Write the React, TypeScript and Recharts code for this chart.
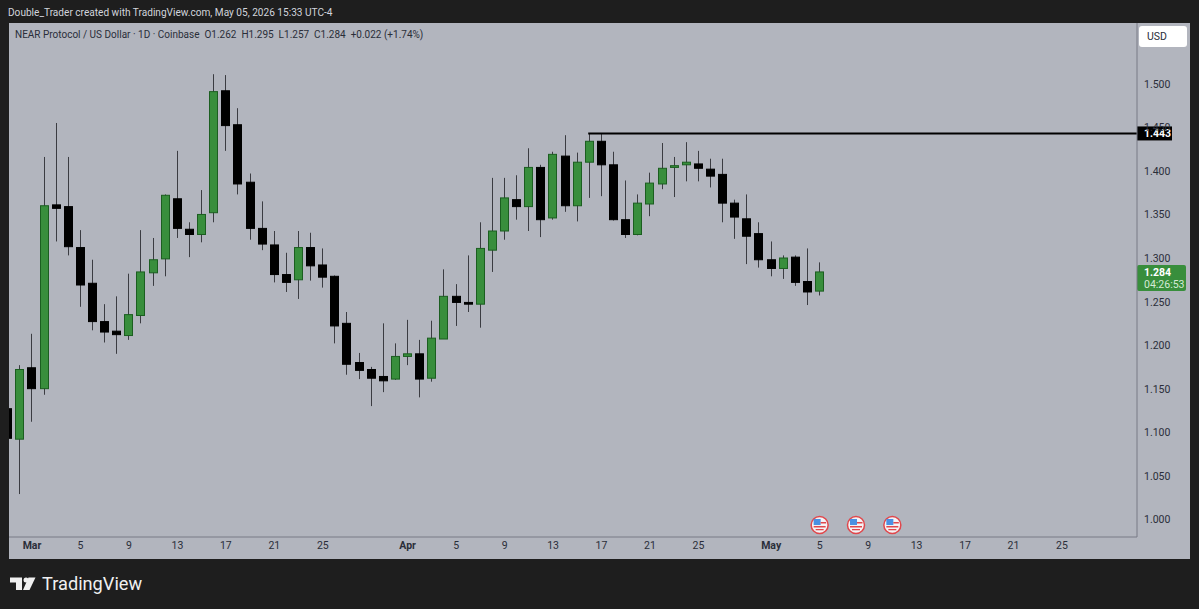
import {
  Bar,
  ComposedChart,
  ReferenceDot,
  ReferenceLine,
  XAxis,
  YAxis,
} from "recharts";

// one entry per day, first one is Feb 27 (day -2), Mar 1 is day 0, last one is May 5
const firstDay = -2;
const opens = [
  1.127, 1.092, 1.174, 1.15, 1.361, 1.359, 1.312, 1.271, 1.227, 1.216, 1.211, 1.234, 1.283, 1.299, 1.368, 1.333,
  1.327, 1.352, 1.492, 1.453, 1.387, 1.334, 1.315, 1.281, 1.275, 1.312, 1.292, 1.279, 1.225, 1.18, 1.172, 1.164,
  1.161, 1.187, 1.19, 1.162, 1.207, 1.256, 1.249, 1.247, 1.309, 1.331, 1.367, 1.359, 1.404, 1.346, 1.417, 1.36,
  1.41, 1.434, 1.407, 1.344, 1.327, 1.362, 1.385, 1.404, 1.407, 1.408, 1.402, 1.396, 1.363, 1.345, 1.328, 1.298,
  1.288, 1.301, 1.273, 1.262,
];
const highs = [
  1.13, 1.177, 1.213, 1.416, 1.455, 1.416, 1.332, 1.298, 1.247, 1.256, 1.282, 1.332, 1.323, 1.373, 1.423, 1.341,
  1.378, 1.511, 1.51, 1.472, 1.397, 1.365, 1.331, 1.306, 1.331, 1.329, 1.311, 1.28, 1.238, 1.191, 1.175, 1.225,
  1.202, 1.229, 1.206, 1.228, 1.287, 1.27, 1.303, 1.341, 1.392, 1.392, 1.395, 1.426, 1.407, 1.422, 1.441, 1.421,
  1.443, 1.443, 1.422, 1.389, 1.373, 1.398, 1.432, 1.416, 1.433, 1.423, 1.414, 1.414, 1.367, 1.373, 1.341, 1.319,
  1.303, 1.303, 1.311, 1.295,
];
const lows = [
  1.09, 1.029, 1.112, 1.143, 1.319, 1.303, 1.244, 1.217, 1.203, 1.19, 1.206, 1.225, 1.268, 1.279, 1.323, 1.301,
  1.318, 1.341, 1.423, 1.373, 1.321, 1.309, 1.272, 1.261, 1.253, 1.274, 1.266, 1.202, 1.166, 1.161, 1.13, 1.146,
  1.16, 1.177, 1.14, 1.158, 1.207, 1.222, 1.238, 1.22, 1.284, 1.321, 1.344, 1.331, 1.324, 1.344, 1.353, 1.342,
  1.369, 1.371, 1.343, 1.323, 1.326, 1.348, 1.379, 1.37, 1.388, 1.388, 1.381, 1.341, 1.322, 1.293, 1.289, 1.279,
  1.276, 1.268, 1.246, 1.257,
];
const closes = [
  1.093, 1.172, 1.15, 1.36, 1.357, 1.313, 1.269, 1.227, 1.215, 1.212, 1.235, 1.284, 1.298, 1.372, 1.334, 1.327,
  1.35, 1.491, 1.452, 1.385, 1.334, 1.316, 1.281, 1.272, 1.312, 1.291, 1.278, 1.222, 1.178, 1.171, 1.162, 1.159,
  1.187, 1.19, 1.161, 1.208, 1.256, 1.249, 1.247, 1.311, 1.331, 1.369, 1.359, 1.404, 1.344, 1.419, 1.36, 1.41,
  1.434, 1.407, 1.344, 1.327, 1.363, 1.386, 1.403, 1.406, 1.41, 1.403, 1.394, 1.363, 1.347, 1.325, 1.298, 1.288,
  1.3, 1.272, 1.261, 1.284,
];

const priceTicks = [1.0, 1.05, 1.1, 1.15, 1.2, 1.25, 1.3, 1.35, 1.4, 1.45, 1.5];
const dayTicks = [0, 4, 8, 12, 16, 20, 24, 31, 35, 39, 43, 47, 51, 55, 61, 65, 69, 73, 77, 81, 85];
const dayLabels = ["Mar", "5", "9", "13", "17", "21", "25", "Apr", "5", "9", "13", "17", "21", "25", "May", "5", "9", "13", "17", "21", "25"];
const eventDays = [65, 68, 71];

const levelStartDay = 45.9;
const levelPrice = 1.443;
const lastPrice = 1.284;
const countdown = "04:26:53";

const rows = opens.map((open, i) => ({
  day: firstDay + i,
  open,
  high: highs[i],
  low: lows[i],
  close: closes[i],
  range: [lows[i], highs[i]],
}));

const FONT = "Roboto, sans-serif";
const GREEN = "#388e3c";
const GREEN_EDGE = "#1b5e20";
const xDomain = [-1.898, 91.19];
const yDomain = [0.9797, 1.5698];

function Candle(props: any) {
  const { x, y, width, height, payload } = props;
  const pxPerPrice = height / (payload.high - payload.low);
  const top = y + (payload.high - Math.max(payload.open, payload.close)) * pxPerPrice;
  const bottom = y + (payload.high - Math.min(payload.open, payload.close)) * pxPerPrice;
  const up = payload.close >= payload.open;
  const mid = Math.round(x + width / 2) - 0.5;
  return (
    <g>
      <line x1={mid} x2={mid} y1={y} y2={y + height} stroke="#3b3c42" strokeWidth={1} />
      <rect
        x={mid - 4}
        y={top}
        width={8}
        height={Math.max(bottom - top, 1)}
        fill={up ? GREEN : "#000"}
        stroke={up ? GREEN_EDGE : "#000"}
        strokeWidth={1}
      />
    </g>
  );
}

function DayTick({ x, y, payload }: any) {
  const label = dayLabels[dayTicks.indexOf(payload.value)];
  const isMonth = isNaN(Number(label));
  return (
    <text x={x} y={y} dy={4} textAnchor="middle" fontFamily={FONT} fontSize={10.5} fontWeight={isMonth ? 700 : 400} fill="#2a2e39">
      {label}
    </text>
  );
}

function PriceTick({ x, y, payload }: any) {
  return (
    <text x={x} y={y} dx={-1} dy={4} fontFamily={FONT} fontSize={10.5} fill="#2a2e39">
      {payload.value.toFixed(3)}
    </text>
  );
}

function LevelTag({ viewBox }: any) {
  const left = viewBox.x + viewBox.width;
  return (
    <g>
      <rect x={left} y={viewBox.y - 7} width={35} height={14} fill="#000" />
      <text x={left + 7} y={viewBox.y + 4} fontFamily={FONT} fontSize={10.5} fontWeight={700} fill="#fff">
        {levelPrice.toFixed(3)}
      </text>
    </g>
  );
}

function LastTag({ viewBox }: any) {
  const left = viewBox.x + viewBox.width;
  return (
    <g>
      <rect x={left} y={viewBox.y - 7} width={49} height={26} rx={2} fill={GREEN} />
      <text x={left + 7} y={viewBox.y + 4} fontFamily={FONT} fontSize={10.5} fontWeight={700} fill="#fff">
        {lastPrice.toFixed(3)}
      </text>
      <text x={left + 7} y={viewBox.y + 16} fontFamily={FONT} fontSize={10.5} fill="#d5ead6">
        {countdown}
      </text>
    </g>
  );
}

function FlagDot({ cx, cy }: any) {
  return (
    <g>
      <circle cx={cx} cy={cy} r={8.5} fill="#f4f4f6" stroke="#e0474c" strokeWidth={1.5} />
      <rect x={cx - 6} y={cy - 6} width={7} height={6} fill="#4a90e2" />
      <rect x={cx + 1} y={cy - 3} width={5.5} height={1.5} fill="#e0474c" />
      <rect x={cx - 6} y={cy + 1} width={12} height={1.5} fill="#e0474c" />
      <rect x={cx - 4} y={cy + 4} width={8} height={1.3} fill="#e0474c" />
    </g>
  );
}

export default function App() {
  return (
    <div style={{ position: "absolute", left: 0, top: 0, width: 1199, height: 609, background: "#1e1e1e", overflow: "hidden", fontFamily: FONT }}>
      <div style={{ position: "absolute", left: 9, top: 23, width: 1181, height: 536, background: "#b2b5be" }} />
      <div style={{ position: "absolute", left: 8, top: 6, fontSize: 10.1, lineHeight: "14px", color: "#d1d4dc", whiteSpace: "nowrap" }}>
        Double_Trader created with TradingView.com, May 05, 2026 15:33 UTC-4
      </div>
      <div style={{ position: "absolute", left: 15, top: 28, fontSize: 10, lineHeight: "14px", color: "#2a2e39", whiteSpace: "pre" }}>
        {"NEAR Protocol / US Dollar · 1D · Coinbase  O1.262  H1.295  L1.257  C1.284  +0.022 (+1.74%)"}
      </div>
      <div style={{ position: "absolute", left: 1139, top: 26, width: 48, height: 21, background: "#fff", borderRadius: 3, fontSize: 10.5, lineHeight: "21px", color: "#2a2e39", textIndent: 8 }}>
        USD
      </div>
      <ComposedChart
        width={1199}
        height={609}
        data={rows}
        margin={{ top: 23, right: 9, bottom: 50, left: 9 }}
        style={{ position: "absolute", left: 0, top: 0 }}
      >
        <XAxis
          type="number"
          dataKey="day"
          domain={xDomain}
          allowDataOverflow
          ticks={dayTicks}
          interval={0}
          height={22}
          stroke="#787b86"
          tickLine={false}
          tick={<DayTick />}
        />
        <YAxis
          type="number"
          orientation="right"
          domain={yDomain}
          allowDataOverflow
          ticks={priceTicks}
          interval={0}
          width={53}
          stroke="#787b86"
          tickLine={false}
          tick={<PriceTick />}
        />
        <Bar dataKey="range" barSize={9} isAnimationActive={false} shape={<Candle />} />
        <ReferenceLine
          segment={[
            { x: levelStartDay, y: levelPrice },
            { x: xDomain[1], y: levelPrice },
          ]}
          stroke="#000"
          strokeWidth={2}
        />
        <ReferenceLine y={levelPrice} stroke="none" label={{ content: LevelTag }} />
        <ReferenceLine y={lastPrice} stroke="none" label={{ content: LastTag }} />
        {eventDays.map((day) => (
          <ReferenceDot key={day} x={day} y={0.9935} shape={<FlagDot />} />
        ))}
      </ComposedChart>
      <svg style={{ position: "absolute", left: 10, top: 577 }} width={26} height={14}>
        <path d="M0 .5h12V13H6V5.5H0z" fill="#f0f0f0" />
        <circle cx={16} cy={3} r={2.5} fill="#f0f0f0" />
        <path d="M18.5 .5H25.5L19.5 13H13z" fill="#f0f0f0" />
      </svg>
      <div style={{ position: "absolute", left: 42, top: 571, fontFamily: "Roboto, sans-serif", fontWeight: 400, fontSize: 18.2, lineHeight: "26px", color: "#f0f0f0" }}>
        TradingView
      </div>
    </div>
  );
}
